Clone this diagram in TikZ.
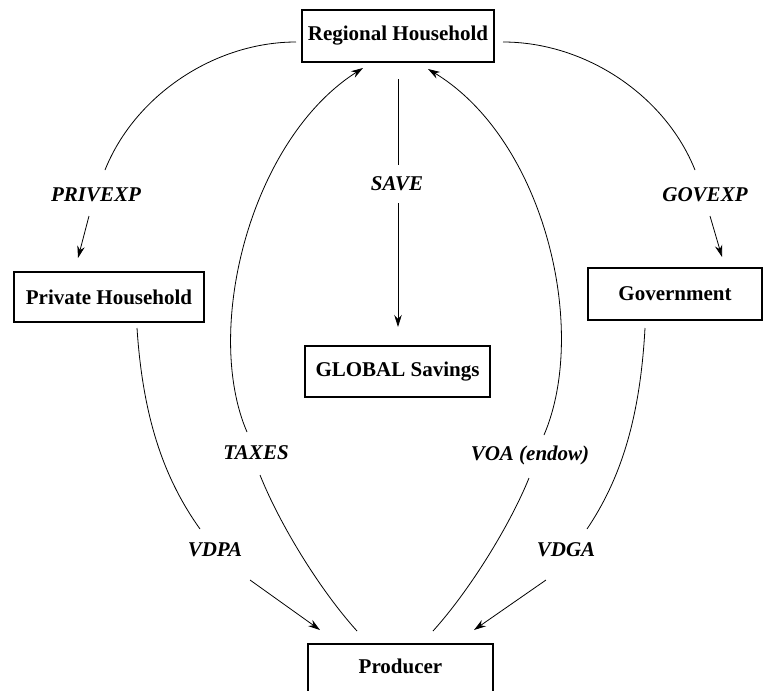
\documentclass[tikz,border=0pt]{standalone}
\usepackage{fontspec}
\setmainfont{Liberation Serif}
\usetikzlibrary{arrows.meta}
\begin{document}
\begin{tikzpicture}[x=1pt,y=-1pt,
  box/.style={draw, line width=1.6pt, font=\fontsize{21}{24}\selectfont\bfseries, inner sep=0pt, align=center},
  lbl/.style={font=\fontsize{21}{24}\selectfont\bfseries\itshape, inner sep=1pt},
  flow/.style={line width=0.8pt},
  arr/.style={flow, -{Stealth[length=12pt,width=7.5pt]}}]
\clip (0,0) rectangle (764,691);
\fill[white] (0,0) rectangle (764,691);
% boxes
\node[box, minimum width=192, minimum height=52] (rh) at (398,36) {Regional Household};
\node[box, minimum width=190, minimum height=50] (ph) at (109,297) {Private Household};
\node[box, minimum width=174, minimum height=52] (gov) at (675,294) {Government};
\node[box, minimum width=185, minimum height=51] (gs) at (397.5,371.5) {GLOBAL Savings};
\node[box, minimum width=185, anchor=north, inner ysep=0pt, text height=30pt, text depth=28pt] (prod) at (400.5,643) {Producer};
% labels
\node[lbl] (privexp) at (96,195) {PRIVEXP};
\node[lbl] (govexp) at (705,195) {GOVEXP};
\node[lbl] (save) at (397,184) {SAVE};
\node[lbl] (taxes) at (256,453) {TAXES};
\node[lbl] (voa) at (530,455) {VOA (endow)};
\node[lbl] (vdpa) at (215,550) {VDPA};
\node[lbl] (vdga) at (566,550) {VDGA};
% end points
\coordinate (rhW) at (296,42);
\coordinate (rhE) at (503,42);
\coordinate (pe1) at (105,170);
\coordinate (pe2) at (89,216);
\coordinate (pe3) at (78,258);
\coordinate (ge1) at (695,170);
\coordinate (ge2) at (710,216);
\coordinate (ge3) at (722,257);
\coordinate (sv1) at (398,79);
\coordinate (sv2) at (398,165);
\coordinate (sv3) at (398,203);
\coordinate (sv4) at (398,327);
\coordinate (tx1) at (357,631);
\coordinate (tx2) at (260,475);
\coordinate (tx3) at (247,432);
\coordinate (tx4) at (363,68);
\coordinate (vo1) at (433,631);
\coordinate (vo2) at (529,478);
\coordinate (vo3) at (544,435);
\coordinate (vo4) at (428,69);
\coordinate (dp1) at (137,328);
\coordinate (dp2) at (200,529);
\coordinate (dp3) at (250,580);
\coordinate (dp4) at (320,630);
\coordinate (dg1) at (645,328);
\coordinate (dg2) at (587,529);
\coordinate (dg3) at (546,580);
\coordinate (dg4) at (474,630);
% PRIVEXP
\draw[flow] (rhW) .. controls (215,42) and (135,95) .. (pe1);
\draw[arr] (pe2) -- (pe3);
% GOVEXP
\draw[flow] (rhE) .. controls (585,42) and (665,95) .. (ge1);
\draw[arr] (ge2) -- (ge3);
% SAVE
\draw[flow] (sv1) -- (sv2);
\draw[arr] (sv3) -- (sv4);
% TAXES
\draw[flow] (tx1) .. controls (320,590) and (280,525) .. (tx2);
\draw[arr] (tx3) .. controls (203,330) and (250,140) .. (tx4);
% VOA
\draw[flow] (vo1) .. controls (470,590) and (510,525) .. (vo2);
\draw[arr] (vo3) .. controls (589,330) and (545,140) .. (vo4);
% VDPA
\draw[flow] (dp1) .. controls (143,420) and (165,480) .. (dp2);
\draw[arr] (dp3) -- (dp4);
% VDGA
\draw[flow] (dg1) .. controls (640,420) and (620,480) .. (dg2);
\draw[arr] (dg3) -- (dg4);
\end{tikzpicture}
\end{document}
